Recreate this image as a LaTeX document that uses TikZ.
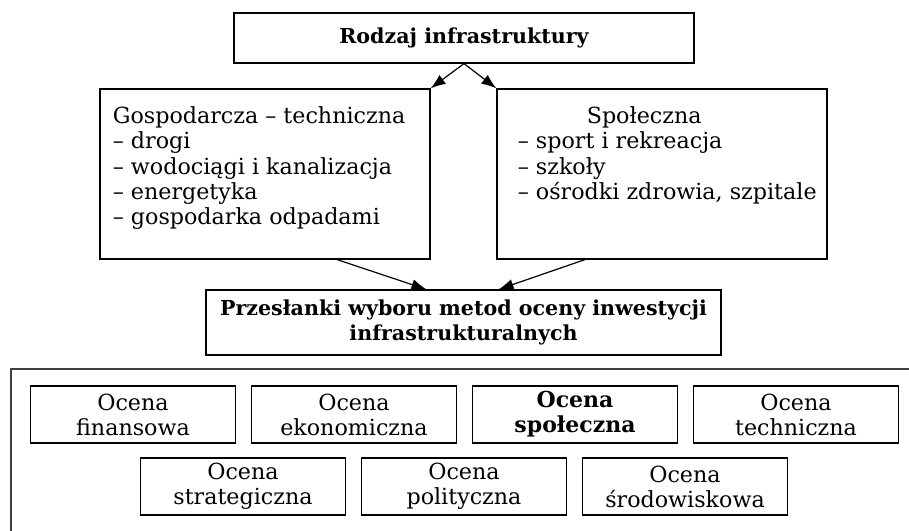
\documentclass[tikz,border=0pt]{standalone}
\usepackage{fontspec}
\setmainfont{DejaVu Serif}
\usetikzlibrary{positioning,calc,arrows.meta}

\begin{document}
\begin{tikzpicture}[x=0.5pt,y=-0.5pt]
  \useasboundingbox (0,0) rectangle (909,530);
  \begin{scope}[
    every node/.style={
      draw,
      align=center,
      anchor=center,
      inner sep=0pt,
      line width=0.6pt,
      font=\fontsize{10.3}{12.6}\selectfont\bfseries,
    },
    ]
    \node[minimum width=230pt,minimum height=25pt]
          (rodzaj) at (464,38)    {Rodzaj infrastruktury};
    \node[minimum width=165pt,minimum height=85pt] (gosp) at (265,174) {};
    \node[minimum width=165pt,minimum height=85pt] (spol) at (662,174) {};
    \node[minimum width=257.5pt,minimum height=32.5pt]
          (przes) at (463.5,322.5) {Przesłanki wyboru metod oceny inwestycji\\infrastrukturalnych};
  \end{scope}
  \begin{scope}[
    every node/.style={
      anchor=north west,
      align=left,
      inner sep=0pt,
      font=\fontsize{11.1}{12.65}\selectfont,
    },
    ]
    \node (gosp-txt) at ($(gosp.north west)+(13,18)$)
      {Gospodarcza – techniczna\\– drogi\\– wodociągi i kanalizacja\\– energetyka\\– gospodarka odpadami};
    \node (spol-txt) at ($(spol.north west)+(21,18)$)
      {\hspace*{34.5pt}Społeczna\\– sport i rekreacja\\– szkoły\\– ośrodki zdrowia, szpitale};
  \end{scope}
  % ramka z metodami oceny
  \node[draw,line width=0.8pt,draw=black!75,anchor=north west,inner sep=0pt,
        minimum width=480pt,minimum height=110pt] (metody) at (10,368) {};
  \begin{scope}[
    every node/.style={
      draw,
      align=center,
      anchor=center,
      inner sep=0pt,
      line width=0.6pt,
      minimum width=102.5pt,
      minimum height=28.5pt,
      font=\fontsize{11.1}{12.5}\selectfont,
    },
    ]
    \node (finans)  at (133,414.5) {Ocena\\finansowa};
    \node (ekonom)  at (354,414.5) {Ocena\\ekonomiczna};
    \node[font=\fontsize{11}{12.5}\selectfont\bfseries]
          (spolecz) at (575,414.5) {Ocena\\społeczna};
    \node (techn)   at (796,414.5) {Ocena\\techniczna};
    \node (strat)   at (243,486.5) {Ocena\\strategiczna};
    \node (polit)   at (464,486.5) {Ocena\\polityczna};
    \node (srodow)  at (685,486.5) {Ocena\\środowiskowa};
  \end{scope}
  \begin{scope}[
    every edge/.style={draw,line width=0.6pt},
    >={Latex[length=7.5pt,width=5.5pt]},
    ]
    \path[->]
    (rodzaj.south)                edge (gosp.north east)
    (rodzaj.south)                edge (spol.north west)
    ($(gosp.south)+(72,0)$)       edge ($(przes.north)+(-37,0)$)
    ($(spol.south)+(-77,0)$)      edge ($(przes.north)+(35,0)$);
  \end{scope}
\end{tikzpicture}
\end{document}
